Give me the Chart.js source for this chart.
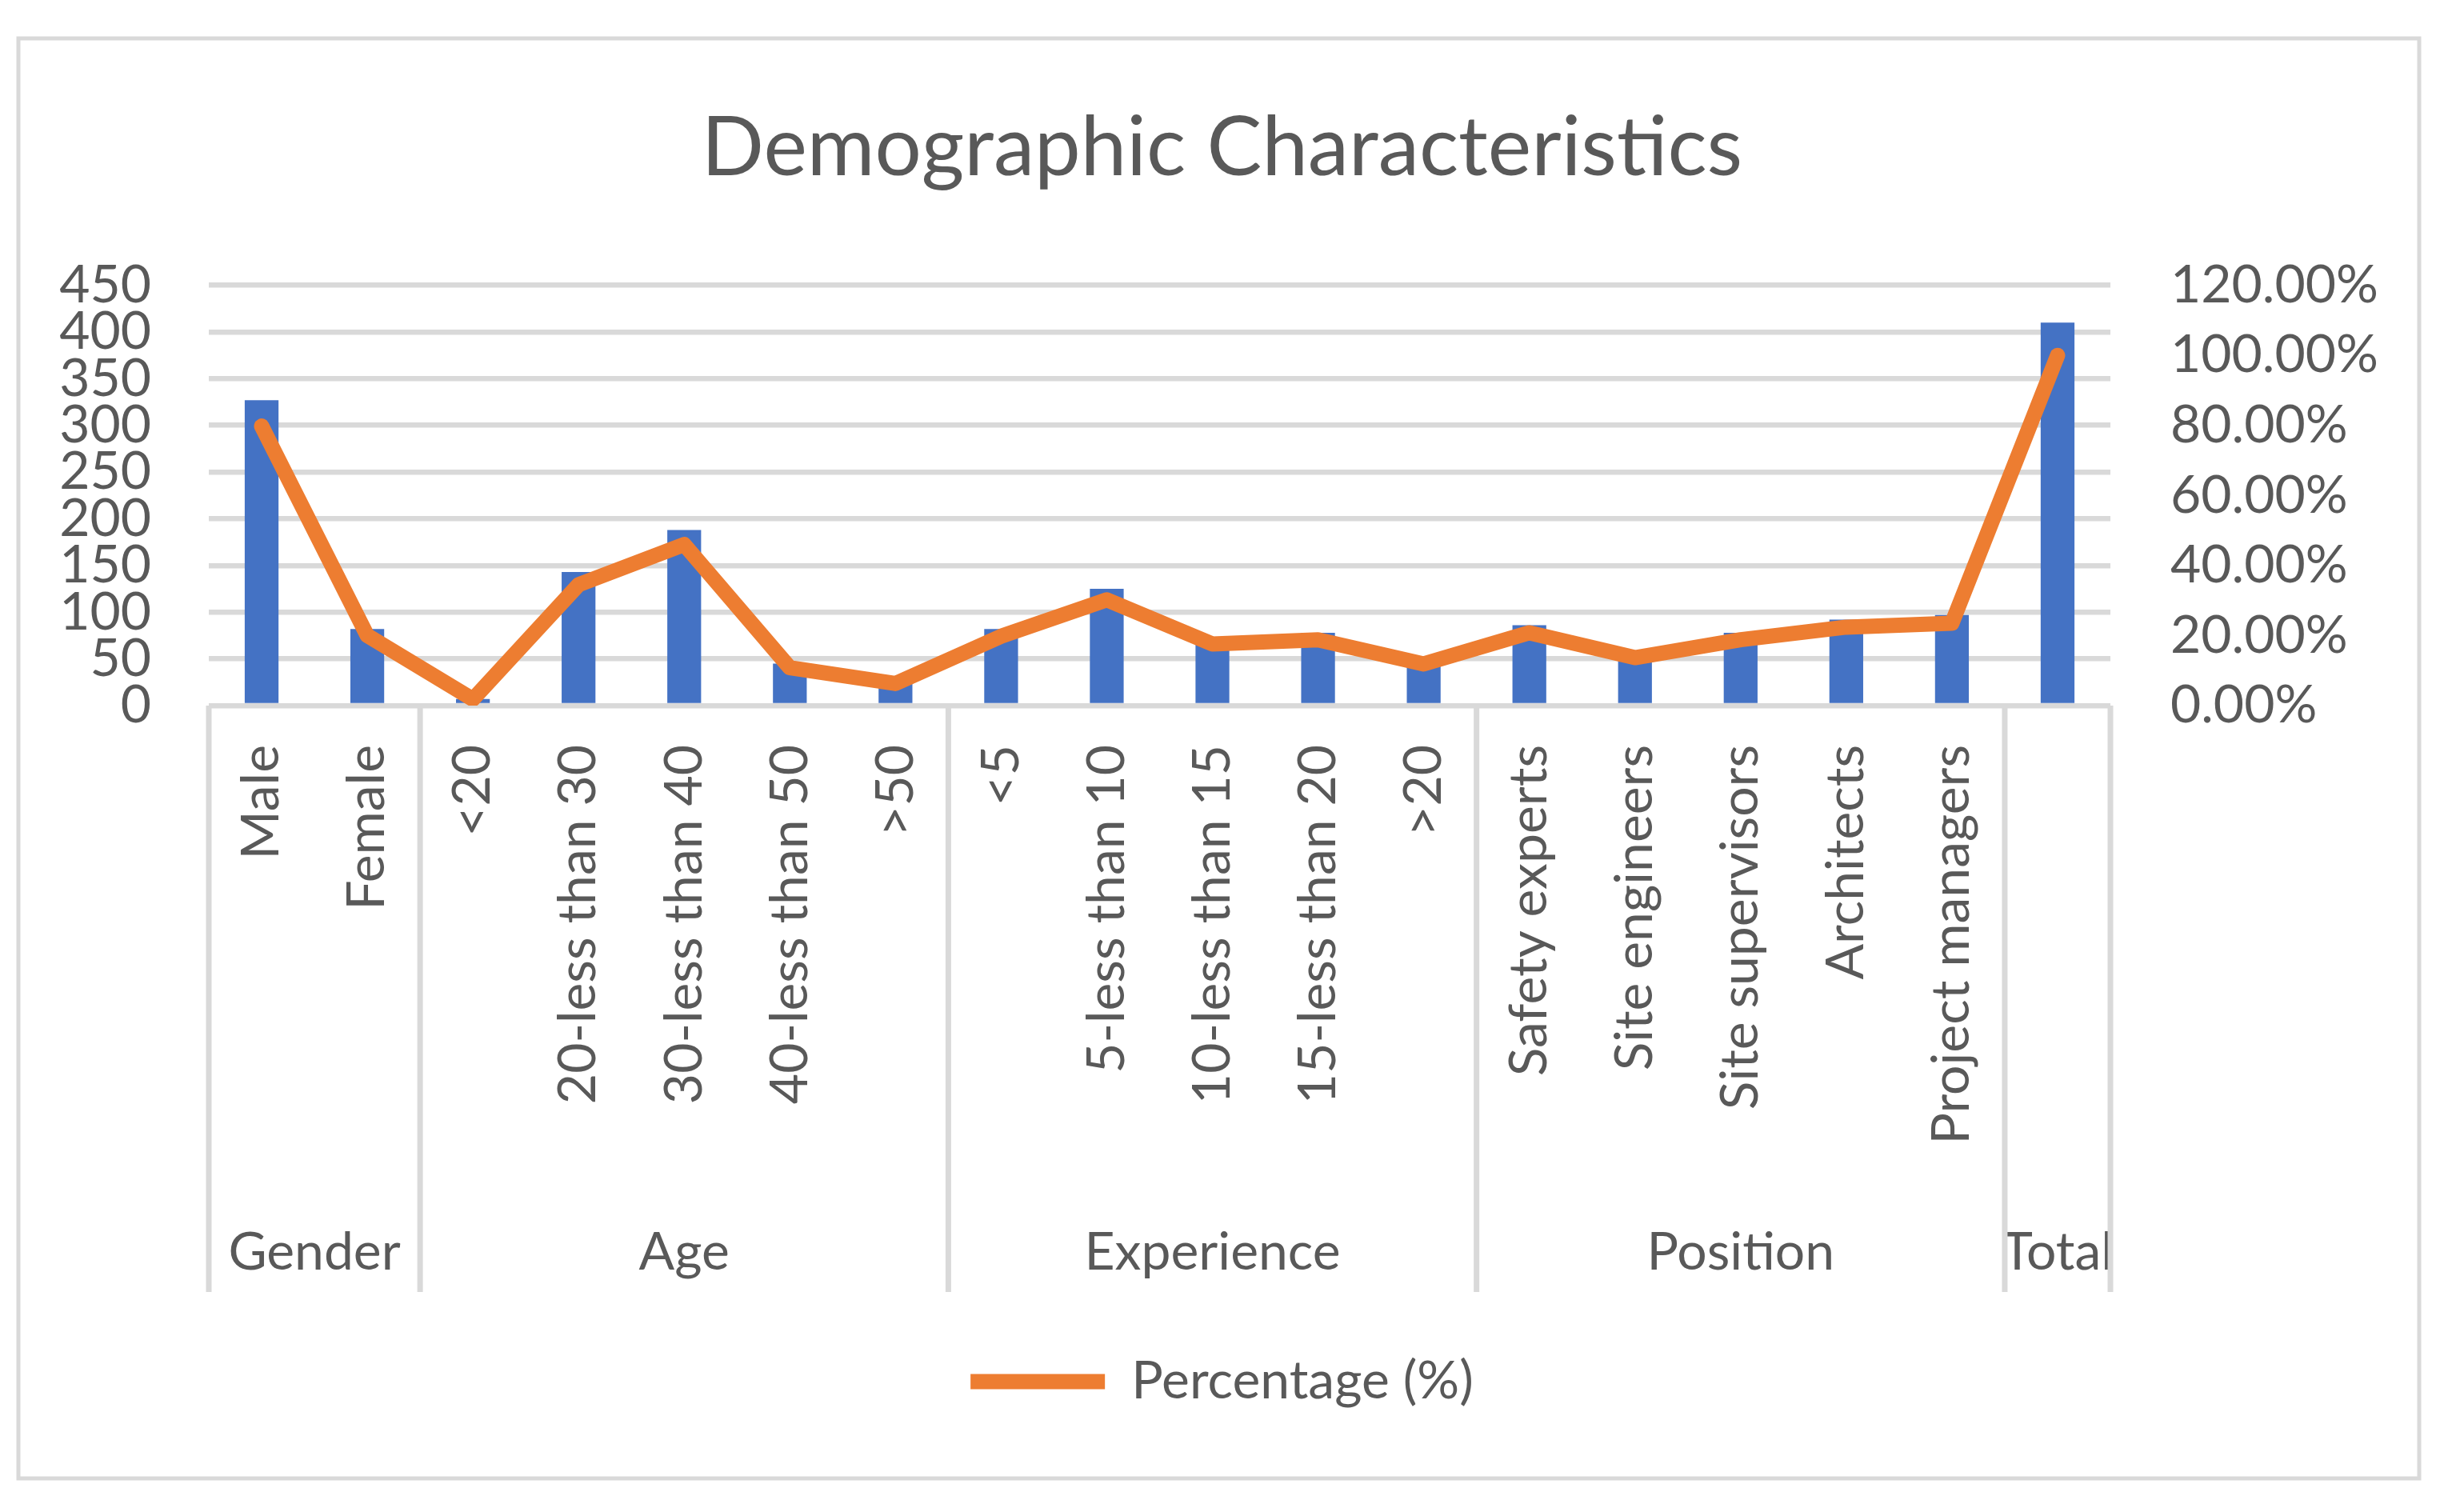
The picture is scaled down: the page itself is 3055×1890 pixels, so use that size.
<!DOCTYPE html>
<html>
<head>
<meta charset="utf-8">
<script src="https://cdn.jsdelivr.net/npm/chart.js@4.4.1/dist/chart.umd.min.js"></script>
<style>
  html, body { margin: 0; padding: 0; background: #fff; }
  canvas { display: block; }
</style>
</head>
<body>
<canvas id="demographics" width="3055" height="1890"></canvas>
<script>
// last category has no label of its own, only the "Total" group name
const categories = ['Male', 'Female', '<20', '20-less than 30', '30-less than 40', '40-less than 50', '>50',
  '<5', '5-less than 10', '10-less than 15', '15-less than 20', '>20',
  'Safety experts', 'Site engineers', 'Site supervisors', 'Architects', 'Project managers', ''];
const counts = [327, 82, 7, 143, 188, 45, 25, 82, 125, 73, 78, 49, 86, 56, 78, 92, 97, 410];
const percents = [0.798, 0.20, 0.018, 0.345, 0.46, 0.108, 0.063, 0.198, 0.302, 0.176, 0.188, 0.119,
  0.208, 0.137, 0.188, 0.224, 0.235, 1.0];
const groupNames = ['Gender', 'Age', 'Experience', 'Position', 'Total'];
const groupSizes = [2, 5, 5, 5, 1];

const textGrey = '#595959';
const lineGrey = '#d9d9d9';
const blue = '#4472C4';
const orange = '#ED7D31';
const font = 'Lato';

// frame, group separators and group names under the category labels
const groupPlugin = {
  id: 'groups',
  beforeDraw(chart) {
    const ctx = chart.ctx;
    ctx.save();
    ctx.fillStyle = '#fff';
    ctx.fillRect(0, 0, chart.width, chart.height);
    ctx.strokeStyle = lineGrey;
    ctx.lineWidth = 5;
    ctx.strokeRect(23, 48, chart.width - 54, chart.height - 90);
    ctx.restore();
  },
  afterDraw(chart) {
    const ctx = chart.ctx;
    const x = chart.scales.x;
    const top = chart.chartArea.bottom;
    const bottom = x.bottom;
    ctx.save();
    ctx.strokeStyle = lineGrey;
    ctx.lineWidth = 7;
    ctx.fillStyle = textGrey;
    ctx.font = '66px ' + font;
    ctx.textAlign = 'center';
    ctx.textBaseline = 'alphabetic';
    let start = 0;
    const edges = [x.getPixelForValue(-0.5)];
    groupSizes.forEach((n, i) => {
      const left = x.getPixelForValue(start - 0.5);
      const right = x.getPixelForValue(start + n - 0.5);
      edges.push(right);
      ctx.fillText(groupNames[i], (left + right) / 2, bottom - 28);
      start += n;
    });
    edges.forEach(px => {
      ctx.beginPath();
      ctx.moveTo(px, top);
      ctx.lineTo(px, bottom);
      ctx.stroke();
    });
    ctx.restore();
  }
};

new Chart('demographics', {
  data: {
    labels: categories,
    datasets: [
      {
        type: 'line',
        label: 'Percentage (%)',
        data: percents,
        yAxisID: 'y1',
        borderColor: orange,
        backgroundColor: orange,
        borderWidth: 19,
        borderCapStyle: 'round',
        borderJoinStyle: 'round',
        pointRadius: 0,
        tension: 0,
        order: 0
      },
      {
        type: 'bar',
        label: 'Count',
        data: counts,
        yAxisID: 'y',
        backgroundColor: blue,
        barPercentage: 0.32,
        categoryPercentage: 1,
        order: 1
      }
    ]
  },
  options: {
    responsive: false,
    devicePixelRatio: 1,
    animation: false,
    layout: { padding: { bottom: 120 } },
    scales: {
      x: {
        grid: { display: false, drawTicks: false },
        border: { display: false },
        ticks: {
          autoSkip: false,
          minRotation: 90,
          maxRotation: 90,
          padding: 49,
          color: textGrey,
          font: { family: font, size: 66 }
        },
        afterFit: s => { s.height = 733; }
      },
      y: {
        position: 'left',
        min: 0,
        max: 450,
        grid: { color: lineGrey, lineWidth: 6.5, drawTicks: false },
        border: { display: false },
        ticks: {
          autoSkip: false,
          stepSize: 50,
          padding: 72,
          color: textGrey,
          font: { family: font, size: 66 }
        },
        afterFit: s => { s.width = 261; }
      },
      y1: {
        position: 'right',
        min: 0,
        max: 1.2,
        grid: { display: false, drawTicks: false },
        border: { display: false },
        ticks: {
          autoSkip: false,
          stepSize: 0.2,
          padding: 75,
          color: textGrey,
          font: { family: font, size: 66 },
          callback: v => (v * 100).toFixed(2) + '%'
        },
        afterFit: s => { s.width = 417; }
      }
    },
    plugins: {
      title: {
        display: true,
        text: 'Demographic Characteristics',
        color: textGrey,
        font: { family: font, size: 103, weight: 'normal' },
        padding: { top: 124, bottom: 109 }
      },
      legend: {
        position: 'bottom',
        labels: {
          filter: item => item.datasetIndex === 0,
          usePointStyle: true,
          pointStyle: 'line',
          pointStyleWidth: 168,
          padding: 79,
          color: textGrey,
          font: { family: font, size: 66 }
        }
      },
      tooltip: { enabled: false }
    }
  },
  plugins: [groupPlugin]
});
</script>
</body>
</html>
